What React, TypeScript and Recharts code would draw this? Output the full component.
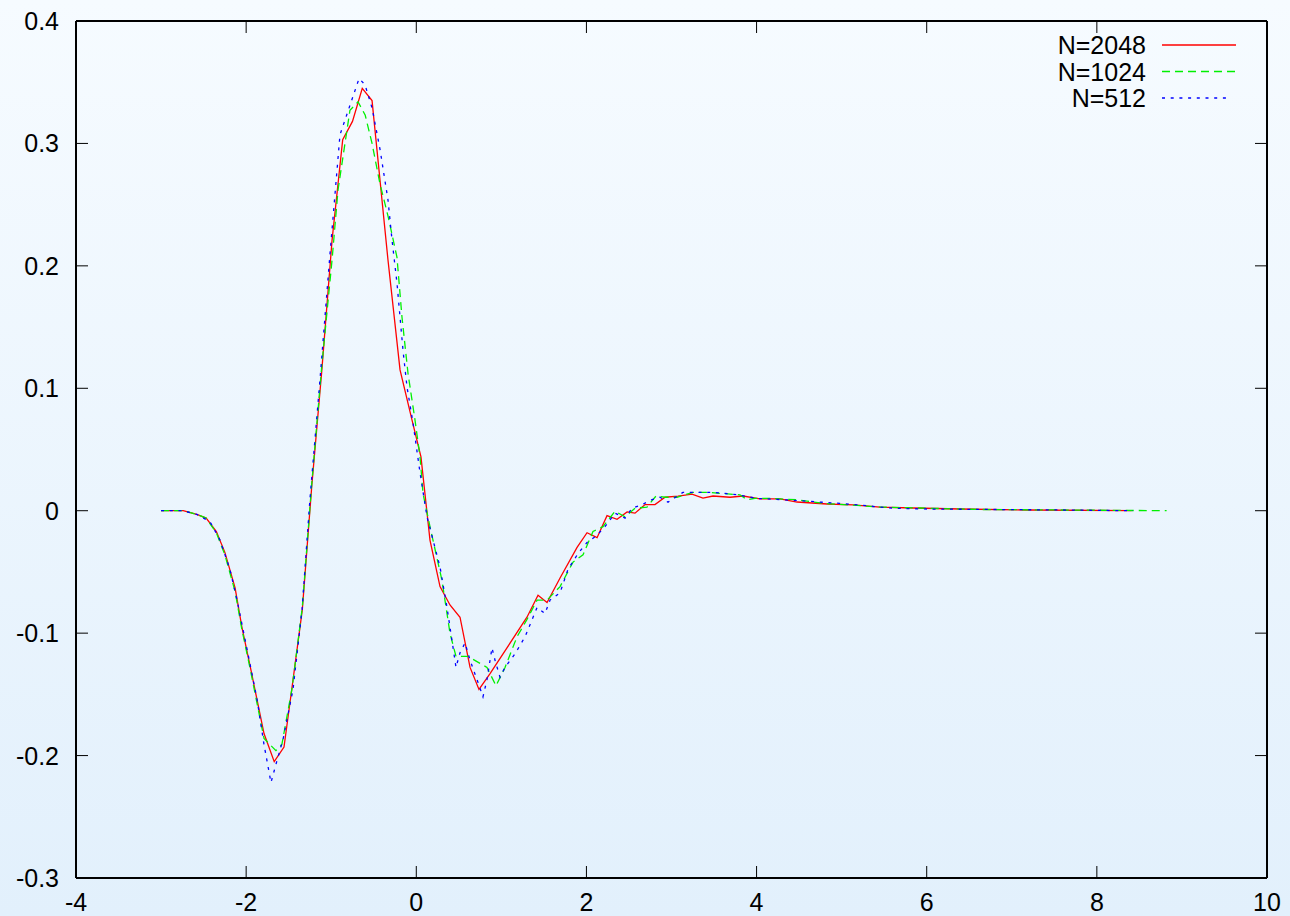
import React from 'react';
import { LineChart, Line, XAxis, YAxis } from 'recharts';

const xTicks = [-4, -2, 0, 2, 4, 6, 8, 10];
const yTicks = [-0.3, -0.2, -0.1, 0, 0.1, 0.2, 0.3, 0.4];
const seriesNames = ['N=2048', 'N=1024', 'N=512'];
const seriesColors = ['#ff0000', '#00f000', '#0000ff'];
const seriesDash = ['', '8 5', '3 5.7'];

const n2048: [number, number][] = [
  [-3.0, 0], [-2.74, 0], [-2.58, -0.003], [-2.47, -0.006], [-2.35, -0.017], [-2.25, -0.034],
  [-2.13, -0.063], [-2.05, -0.095], [-1.95, -0.128], [-1.79, -0.182], [-1.67, -0.205],
  [-1.555, -0.193], [-1.46, -0.144], [-1.34, -0.081], [-1.23, 0.019], [-1.11, 0.115],
  [-0.99, 0.221], [-0.865, 0.303], [-0.75, 0.318], [-0.635, 0.345], [-0.52, 0.335],
  [-0.333, 0.205], [-0.191, 0.115], [-0.05, 0.074], [0.055, 0.044], [0.161, -0.024],
  [0.279, -0.062], [0.396, -0.077], [0.514, -0.087], [0.632, -0.128], [0.737, -0.146],
  [0.867, -0.133], [1.066, -0.112], [1.301, -0.087], [1.431, -0.069], [1.537, -0.075],
  [1.69, -0.055], [1.89, -0.03], [2.007, -0.018], [2.125, -0.022], [2.242, -0.004],
  [2.36, -0.007], [2.478, -0.001], [2.571, -0.002], [2.689, 0.005], [2.806, 0.005],
  [2.924, 0.011], [3.077, 0.012], [3.241, 0.0136], [3.37, 0.0103], [3.488, 0.012],
  [3.688, 0.011], [3.84, 0.012], [4.04, 0.0096], [4.276, 0.0096], [4.476, 0.0071],
  [4.828, 0.0055], [5.134, 0.0047], [5.45, 0.003], [5.84, 0.0022], [6.39, 0.0014],
  [7.18, 0.0006], [8.41, 0],
];

const n1024: [number, number][] = [
  [-3.0, 0], [-2.74, 0], [-2.58, -0.003], [-2.47, -0.006], [-2.35, -0.018], [-2.25, -0.036],
  [-2.13, -0.066], [-2.05, -0.097], [-1.95, -0.13], [-1.79, -0.186], [-1.65, -0.196],
  [-1.58, -0.191], [-1.46, -0.145], [-1.34, -0.079], [-1.23, 0.021], [-1.11, 0.119],
  [-0.99, 0.205], [-0.92, 0.262], [-0.78, 0.327], [-0.685, 0.334], [-0.6, 0.323],
  [-0.52, 0.3], [-0.43, 0.268], [-0.33, 0.24], [-0.227, 0.207], [-0.168, 0.158],
  [-0.097, 0.112], [-0.015, 0.074], [0.044, 0.044], [0.079, 0.014], [0.161, -0.013],
  [0.302, -0.057], [0.396, -0.1], [0.467, -0.119], [0.608, -0.119], [0.831, -0.128],
  [0.937, -0.143], [1.043, -0.128], [1.184, -0.103], [1.3, -0.089], [1.42, -0.073],
  [1.537, -0.073], [1.69, -0.062], [1.842, -0.042], [1.96, -0.036], [2.077, -0.017],
  [2.195, -0.013], [2.336, -0.0005], [2.454, -0.005], [2.571, 0.002], [2.712, 0.003],
  [2.818, 0.012], [2.924, 0.011], [3.065, 0.011], [3.253, 0.015], [3.417, 0.015],
  [3.606, 0.014], [3.805, 0.013], [3.888, 0.009], [3.982, 0.01], [4.158, 0.01],
  [4.476, 0.009], [4.781, 0.006], [5.1, 0.0047], [5.45, 0.003], [5.92, 0.0022],
  [6.63, 0.001], [7.57, 0.0006], [8.82, 0],
];

const n512: [number, number][] = [
  [-3.0, 0], [-2.74, 0], [-2.58, -0.003], [-2.425, -0.009], [-2.307, -0.024], [-2.19, -0.048],
  [-2.107, -0.073], [-2.013, -0.105], [-1.872, -0.154], [-1.79, -0.191], [-1.708, -0.222],
  [-1.637, -0.204], [-1.567, -0.187], [-1.449, -0.146], [-1.343, -0.081], [-1.25, 0.0095],
  [-1.132, 0.107], [-1.014, 0.21], [-0.897, 0.307], [-0.78, 0.331], [-0.673, 0.353],
  [-0.603, 0.348], [-0.52, 0.329], [-0.426, 0.295], [-0.333, 0.254], [-0.285, 0.221],
  [-0.227, 0.186], [-0.156, 0.131], [-0.109, 0.101], [-0.039, 0.072], [0.044, 0.031],
  [0.126, -0.005], [0.279, -0.046], [0.361, -0.079], [0.467, -0.128], [0.514, -0.116],
  [0.573, -0.108], [0.632, -0.122], [0.714, -0.138], [0.784, -0.152], [0.831, -0.138],
  [0.89, -0.112], [0.925, -0.122], [0.984, -0.136], [1.043, -0.128], [1.16, -0.117],
  [1.278, -0.103], [1.42, -0.079], [1.513, -0.084], [1.572, -0.073], [1.69, -0.067],
  [1.783, -0.048], [1.901, -0.035], [2.007, -0.026], [2.125, -0.02], [2.218, -0.013],
  [2.336, -0.002], [2.454, -0.006], [2.536, 0.002], [2.654, 0.005], [2.771, 0.009],
  [2.865, 0.011], [2.959, 0.007], [3.135, 0.015], [3.453, 0.015], [3.57, 0.0145],
  [3.782, 0.013], [4.005, 0.01], [4.311, 0.009], [4.546, 0.008], [4.98, 0.006],
  [5.3, 0.004], [5.604, 0.002], [6.003, 0.0014], [6.78, 0.001], [7.57, 0.0006], [8.425, 0],
];

const allSeries = [n2048, n1024, n512].map((s) => s.map(([x, y]) => ({ x, y })));

const FONT = '"Liberation Sans", Arial, Helvetica, sans-serif';
const TICK_LEN = 12;

const LeftTick = (props: any) => {
  const { x, y, payload } = props;
  return (
    <g>
      <line x1={x} x2={x + TICK_LEN} y1={y} y2={y} stroke="#000" strokeWidth={1} />
      <text x={x - 17} y={y} dy="0.36em" textAnchor="end" fontSize={25} fontFamily={FONT} fill="#000">
        {String(payload.value)}
      </text>
    </g>
  );
};
const RightTick = (props: any) => {
  const { x, y } = props;
  return <line x1={x} x2={x - TICK_LEN} y1={y} y2={y} stroke="#000" strokeWidth={1} />;
};
const BottomTick = (props: any) => {
  const { x, y, payload } = props;
  return (
    <g>
      <line x1={x} x2={x} y1={y} y2={y - TICK_LEN} stroke="#000" strokeWidth={1} />
      <text x={x} y={y + 33} textAnchor="middle" fontSize={25} fontFamily={FONT} fill="#000">
        {String(payload.value)}
      </text>
    </g>
  );
};
const TopTick = (props: any) => {
  const { x, y } = props;
  return <line x1={x} x2={x} y1={y} y2={y + TICK_LEN} stroke="#000" strokeWidth={1} />;
};

const axisLine = { stroke: '#000', strokeWidth: 2 };

export default function App() {
  return (
    <div
      style={{
        position: 'absolute',
        left: 0,
        top: 0,
        width: 1290,
        height: 916,
        background: 'linear-gradient(#f6fbff, #e2f0fc)',
      }}
    >
      <LineChart width={1290} height={916} margin={{ top: 20, right: 22, left: 0, bottom: 0 }}>
        <XAxis
          xAxisId="b"
          dataKey="x"
          type="number"
          domain={[-4, 10]}
          ticks={xTicks}
          interval={0}
          height={38}
          tickSize={0}
          tickMargin={0}
          axisLine={axisLine}
          tickLine={false}
          tick={<BottomTick />}
          allowDataOverflow
        />
        <XAxis
          xAxisId="t"
          orientation="top"
          dataKey="x"
          type="number"
          domain={[-4, 10]}
          ticks={xTicks}
          interval={0}
          height={1}
          tickSize={0}
          tickMargin={0}
          axisLine={axisLine}
          tickLine={false}
          tick={<TopTick />}
          allowDataOverflow
        />
        <YAxis
          yAxisId="l"
          type="number"
          domain={[-0.3, 0.4]}
          ticks={yTicks}
          interval={0}
          width={76}
          tickSize={0}
          tickMargin={0}
          axisLine={axisLine}
          tickLine={false}
          tick={<LeftTick />}
          allowDataOverflow
        />
        <YAxis
          yAxisId="r"
          orientation="right"
          type="number"
          domain={[-0.3, 0.4]}
          ticks={yTicks}
          interval={0}
          width={1}
          tickSize={0}
          tickMargin={0}
          axisLine={axisLine}
          tickLine={false}
          tick={<RightTick />}
          allowDataOverflow
        />
        {allSeries.map((data, i) => (
          <Line
            key={seriesNames[i]}
            xAxisId="b"
            yAxisId="l"
            data={data}
            dataKey="y"
            type="linear"
            stroke={seriesColors[i]}
            strokeWidth={1.3}
            strokeDasharray={seriesDash[i] || undefined}
            dot={false}
            activeDot={false}
            isAnimationActive={false}
          />
        ))}
        {allSeries.map((data, i) => (
          <Line
            key={'t' + seriesNames[i]}
            xAxisId="t"
            yAxisId="r"
            data={data}
            dataKey="y"
            type="linear"
            stroke="none"
            strokeWidth={0}
            dot={false}
            activeDot={false}
            legendType="none"
            isAnimationActive={false}
          />
        ))}
      </LineChart>
      <svg
        width={300}
        height={120}
        style={{ position: 'absolute', left: 990, top: 0, pointerEvents: 'none' }}
      >
        {seriesNames.map((name, i) => {
          const cy = 45 + i * 26.5;
          return (
            <g key={name}>
              <text x={156} y={cy} dy="0.36em" textAnchor="end" fontSize={25} fontFamily={FONT} fill="#000">
                {name}
              </text>
              <line
                x1={172}
                x2={i === 2 ? 241 : 246}
                y1={cy}
                y2={cy}
                stroke={seriesColors[i]}
                strokeWidth={1.3}
                strokeDasharray={seriesDash[i] || undefined}
              />
            </g>
          );
        })}
      </svg>
    </div>
  );
}
